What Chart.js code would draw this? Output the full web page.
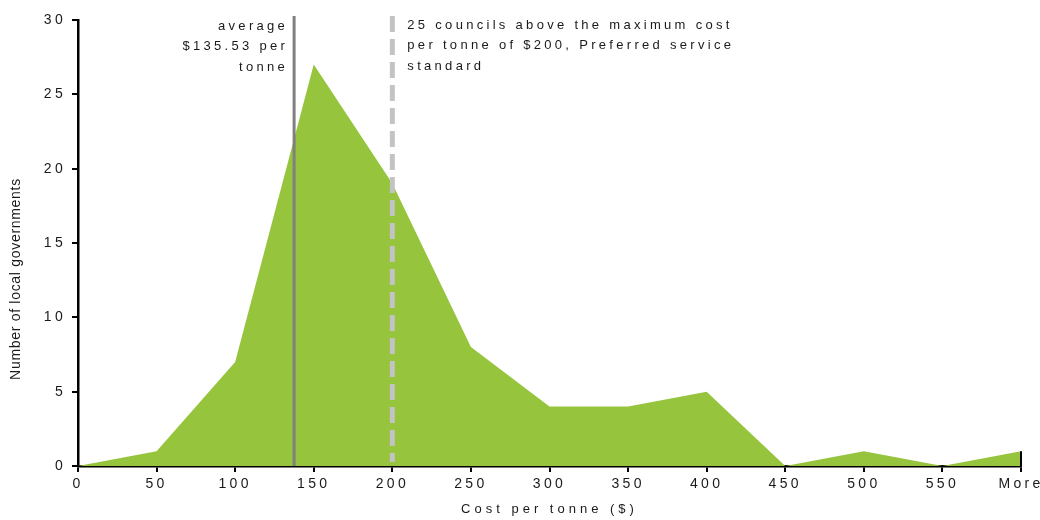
<!DOCTYPE html>
<html>
<head>
<meta charset="utf-8">
<script src="https://cdn.jsdelivr.net/npm/chart.js@4"></script>
<style>
    body { margin: 0; background: #fff; }
    #wrap { width: 1040px; height: 520px; position: relative; }
</style>
</head>
<body>
<div id="wrap"><canvas id="cost-chart"></canvas></div>
<script>
// Distribution of cost per tonne across local governments

const costBands = ['0', '50', '100', '150', '200', '250', '300', '350', '400', '450', '500', '550', 'More'];
const councilCounts = [0, 1, 7, 27, 19, 8, 4, 4, 5, 0, 1, 0, 1];
const yTickValues = [0, 5, 10, 15, 20, 25, 30];

const bandWidth = 50;          // $ per category step
const averageLineAt = 137.5;   // where the solid line sits on the axis
const preferredMax = 200;      // dashed line, preferred service standard

const averageNote = ['average', '$135.53 per', 'tonne'];
const preferredNote = ['25 councils above the maximum cost', 'per tonne of $200, Preferred service', 'standard'];
const yTitle = 'Number of local governments';

const FONT = "'Liberation Sans', Arial, sans-serif";
const INK = '#1a1a1a';

// letter spacing for tick labels and the x title
const spacingPlugin = {
    id: 'spacing',
    beforeLayout(chart) {
        chart.ctx.letterSpacing = '3.3px';
    },
    beforeDraw(chart) {
        chart.ctx.letterSpacing = '3.3px';
        const x = chart.scales.x;
        if (x && !x._wrappedTitle) {
            const orig = x.drawTitle;
            x.drawTitle = function () {
                const c = this.ctx;
                const prev = c.letterSpacing;
                c.letterSpacing = '4px';
                orig.apply(this, arguments);
                c.letterSpacing = prev;
            };
            x._wrappedTitle = true;
        }
    }
};

// reference lines, their notes and the y title (sits below centre in the original)
const markersPlugin = {
    id: 'markers',
    afterDatasetsDraw(chart) {
        const { ctx, scales: { x, y } } = chart;
        const avgX = x.getPixelForValue(averageLineAt / bandWidth);
        const maxX = x.getPixelForValue(preferredMax / bandWidth);

        ctx.save();
        ctx.lineCap = 'butt';

        // average (solid)
        ctx.strokeStyle = '#808080';
        ctx.lineWidth = 3;
        ctx.beginPath();
        ctx.moveTo(avgX, y.top - 4);
        ctx.lineTo(avgX, y.bottom);
        ctx.stroke();

        // preferred maximum (dashed)
        ctx.strokeStyle = '#c3c3c3';
        ctx.lineWidth = 5;
        ctx.setLineDash([16, 7]);
        ctx.beginPath();
        ctx.moveTo(maxX, y.top - 4);
        ctx.lineTo(maxX, y.bottom - 4);
        ctx.stroke();
        ctx.setLineDash([]);

        // little end mark at "More"
        const endX = x.getPixelForValue(costBands.length - 1);
        ctx.strokeStyle = '#000';
        ctx.lineWidth = 2;
        ctx.beginPath();
        ctx.moveTo(endX, y.getPixelForValue(councilCounts[councilCounts.length - 1]));
        ctx.lineTo(endX, y.bottom);
        ctx.stroke();

        // notes
        ctx.fillStyle = INK;
        ctx.font = '13px ' + FONT;
        ctx.letterSpacing = '3.3px';
        ctx.textBaseline = 'middle';

        ctx.textAlign = 'right';
        averageNote.forEach((line, i) => {
            ctx.fillText(line, avgX - 6, y.top + 6 + i * 20.5);
        });

        ctx.textAlign = 'left';
        preferredNote.forEach((line, i) => {
            ctx.fillText(line, maxX + 15, y.top + 5 + i * 20.5);
        });

        // y axis title
        ctx.font = '14px ' + FONT;
        ctx.letterSpacing = '0.7px';
        ctx.textAlign = 'center';
        ctx.translate(16, y.bottom - 187);
        ctx.rotate(-Math.PI / 2);
        ctx.fillText(yTitle, 0, 0);

        ctx.restore();
    }
};

const ctx = document.getElementById('cost-chart');
new Chart(ctx, {
    type: 'line',
    data: {
        labels: costBands,
        datasets: [{
            data: councilCounts,
            fill: 'origin',
            backgroundColor: '#96c43c',
            borderWidth: 0,
            borderColor: 'rgba(0,0,0,0)',
            pointRadius: 0,
            tension: 0
        }]
    },
    options: {
        responsive: true,
        maintainAspectRatio: false,
        animation: false,
        layout: {
            padding: { top: 20, right: 19, bottom: 0, left: 0 }
        },
        plugins: {
            legend: { display: false },
            tooltip: { enabled: false }
        },
        scales: {
            x: {
                offset: false,
                grid: {
                    drawOnChartArea: false,
                    drawTicks: true,
                    tickLength: 6,
                    color: '#000',
                    lineWidth: 2
                },
                border: { color: '#000', width: 2.5 },
                ticks: {
                    color: INK,
                    font: { family: FONT, size: 14 },
                    padding: 4,
                    maxRotation: 0,
                    autoSkip: false
                },
                title: {
                    display: true,
                    text: 'Cost per tonne ($)',
                    color: INK,
                    font: { family: FONT, size: 13 },
                    padding: { top: 0, bottom: 3 }
                },
                afterFit(scale) {
                    scale.height = 54;
                    scale.paddingRight = 0;
                }
            },
            y: {
                min: yTickValues[0],
                max: yTickValues[yTickValues.length - 1],
                grid: {
                    drawOnChartArea: false,
                    drawTicks: true,
                    tickLength: 6,
                    color: '#000',
                    lineWidth: 2
                },
                border: { color: '#000', width: 2.5 },
                ticks: {
                    stepSize: yTickValues[1] - yTickValues[0],
                    color: INK,
                    font: { family: FONT, size: 14 },
                    padding: 6
                },
                afterFit(scale) {
                    scale.width = 78;
                }
            }
        }
    },
    plugins: [spacingPlugin, markersPlugin]
});
</script>
</body>
</html>
